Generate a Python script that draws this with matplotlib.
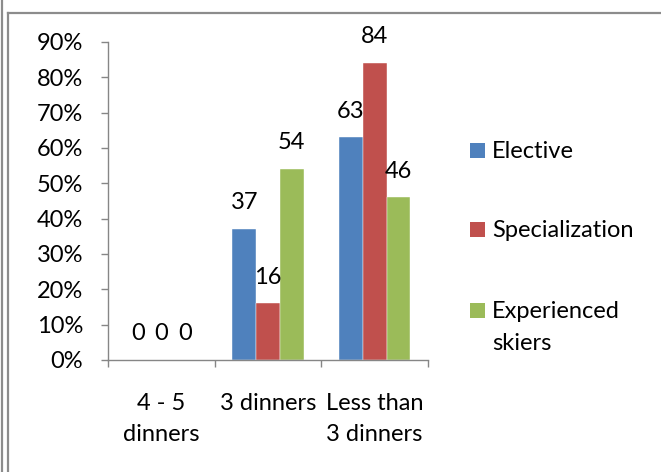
import matplotlib
matplotlib.use("Agg")
import matplotlib.pyplot as plt
from matplotlib.lines import Line2D
from matplotlib.patches import Rectangle
import numpy as np

plt.rcParams['font.family'] = ['Lato', 'DejaVu Sans']

categories = ["4 - 5\ndinners", "3 dinners", "Less than\n3 dinners"]
series_names = ["Elective", "Specialization", "Experienced\nskiers"]
elective = [0, 37, 63]
specialization = [0, 16, 84]
experienced = [0, 54, 46]
colors = ["#4F81BD", "#C0504D", "#9BBB59"]
yticks = [0, 10, 20, 30, 40, 50, 60, 70, 80, 90]
ytick_labels = ["0%", "10%", "20%", "30%", "40%", "50%", "60%", "70%", "80%", "90%"]

W, H = 661, 472
fig = plt.figure(figsize=(W / 100, H / 100), dpi=100)
ax = fig.add_axes([108 / W, 1 - 360 / H, (428 - 108) / W, (360 - 42) / H])

fs = 17
n = len(categories)
x = np.arange(n)
bw = 1 / 4.5
series = [elective, specialization, experienced]
for i, (vals, c, name) in enumerate(zip(series, colors, series_names)):
    pos = x + (i - 1) * bw
    ax.bar(pos, vals, width=bw, color=c, label=name,
           edgecolor="white", linewidth=0.3)
    for p, v in zip(pos, vals):
        ax.annotate(f"{v}", xy=(p, v), xytext=(0, 19), textcoords="offset points",
                    ha="center", va="center", fontsize=fs, color="black")

ax.set_xlim(-0.5, n - 0.5)
ax.set_ylim(0, 90)
ax.set_yticks(yticks)
ax.set_yticklabels(ytick_labels)
ax.set_xticks(np.arange(n + 1) - 0.5, minor=False)
ax.set_xticklabels([])
ax.set_xticks(x, minor=True)
ax.set_xticklabels(categories, minor=True, linespacing=1.55)
ax.tick_params(axis="x", which="minor", length=0, pad=24, labelsize=fs)
ax.tick_params(axis="x", which="major", length=5, width=1, color="#868686", direction="out")
ax.tick_params(axis="y", length=5, width=1, color="#868686", direction="out", pad=13, labelsize=fs)
for s in ["top", "right"]:
    ax.spines[s].set_visible(False)
for s in ["left", "bottom"]:
    ax.spines[s].set_color("#868686")
    ax.spines[s].set_linewidth(1)

# legend (drawn as figure artists to match the Excel-style layout)
leg_y = [150, 229, 310]  # pixel centres of first text line
for c, name, yc in zip(colors, series_names, leg_y):
    fig.add_artist(Rectangle((470 / W, 1 - (yc + 7.5) / H), 15 / W, 15 / H,
                             transform=fig.transFigure, facecolor=c, edgecolor="none"))
    for k, line in enumerate(name.split("\n")):
        fig.text(492 / W, 1 - (yc + 2 + 32 * k) / H, line, fontsize=fs,
                 ha="left", va="center")

# outer border lines
fig.add_artist(Line2D([1.5 / W, 1.5 / W], [0, 1], color="#8c8c8c", lw=1.6, transform=fig.transFigure))
fig.add_artist(Line2D([8 / W, 8 / W], [0, 1 - 12.5 / H], color="#8c8c8c", lw=1.6, transform=fig.transFigure))
fig.add_artist(Line2D([8 / W, 1], [1 - 12.5 / H, 1 - 12.5 / H], color="#8c8c8c", lw=1.6, transform=fig.transFigure))

fig.savefig("out.png", dpi=100)
